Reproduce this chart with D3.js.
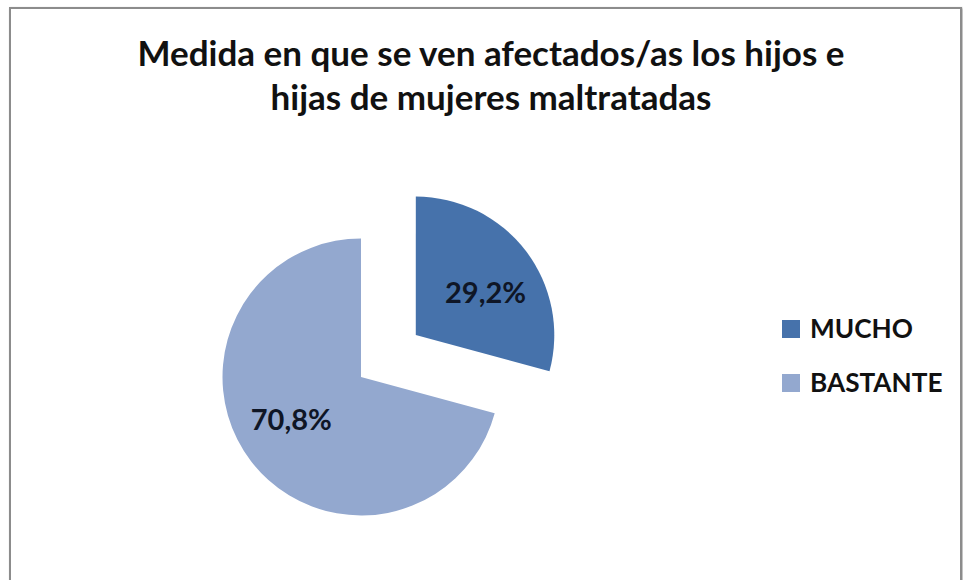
<!DOCTYPE html>
<html>
<head>
<meta charset="utf-8">
<script src="https://cdn.jsdelivr.net/npm/d3@7"></script>
<style>
  html, body { margin: 0; padding: 0; background: #fff; }
  svg { display: block; }
</style>
</head>
<body>
<svg id="chart" width="963" height="580"></svg>
<script>
// Chart data
const titleLines = ["Medida en que se ven afectados/as los hijos e", "hijas de mujeres maltratadas"];
const categories = ["MUCHO", "BASTANTE"];
const values = [29.2, 70.8];
const colors = ["#4672ab", "#93a8cf"];
const explodedSlices = ["MUCHO"];

// Layout
const W = 963, H = 580;
const cx = 361, cy = 377, radius = 138.5, explodeDist = 69;
const labelRadius = 0.59 * radius;
const labelAngleShift = 6 * Math.PI / 180;
const FONT = "Lato, 'Open Sans', sans-serif";

const svg = d3.select("#chart");

// Chart frame with soft shadow
const defs = svg.append("defs");
const f = defs.append("filter").attr("id", "shadow").attr("x", "-5%").attr("y", "-5%").attr("width", "110%").attr("height", "110%");
f.append("feDropShadow").attr("dx", 1).attr("dy", 1).attr("stdDeviation", 1.2).attr("flood-color", "#000").attr("flood-opacity", 0.35);
svg.append("rect")
  .attr("x", 10).attr("y", 8).attr("width", 951).attr("height", 600)
  .attr("fill", "#fff").attr("stroke", "#8c8c8c").attr("stroke-width", 2)
  .attr("filter", "url(#shadow)");

// Title
svg.append("g").selectAll("text").data(titleLines).join("text")
  .attr("x", 491).attr("y", (d, i) => 66 + i * 44)
  .attr("text-anchor", "middle")
  .attr("font-family", FONT).attr("font-weight", 700).attr("font-size", 35)
  .attr("fill", "#111")
  .text(d => d);

// Pie
const data = categories.map((c, i) => ({ name: c, value: values[i], color: colors[i] }));
const pie = d3.pie().value(d => d.value).sort(null);
const arc = d3.arc().innerRadius(0).outerRadius(radius);
const arcs = pie(data);

const g = svg.append("g").attr("transform", `translate(${cx},${cy})`);
const slice = g.selectAll("g.slice").data(arcs).join("g")
  .attr("class", "slice")
  .attr("transform", d => {
    if (!explodedSlices.includes(d.data.name)) return null;
    const a = (d.startAngle + d.endAngle) / 2;
    return `translate(${Math.sin(a) * explodeDist},${-Math.cos(a) * explodeDist})`;
  });

slice.append("path")
  .attr("d", arc)
  .attr("fill", d => d.data.color);

slice.append("text")
  .attr("transform", d => {
    const a = (d.startAngle + d.endAngle) / 2 + labelAngleShift;
    return `translate(${Math.sin(a) * labelRadius},${-Math.cos(a) * labelRadius})`;
  })
  .attr("text-anchor", "middle").attr("dy", "0.36em")
  .attr("font-family", FONT).attr("font-weight", 700).attr("font-size", 29)
  .attr("fill", "#0f1626")
  .text(d => d.data.value.toFixed(1).replace(".", ",") + "%");

// Legend
const legend = svg.append("g").attr("transform", "translate(782,320)");
const item = legend.selectAll("g").data(data).join("g")
  .attr("transform", (d, i) => `translate(0,${i * 54})`);
item.append("rect").attr("width", 18).attr("height", 18).attr("fill", d => d.color);
item.append("text")
  .attr("x", 28).attr("y", 17.5)
  .attr("font-family", FONT).attr("font-weight", 700).attr("font-size", 26.2)
  .attr("fill", "#111")
  .text(d => d.name);
</script>
</body>
</html>
